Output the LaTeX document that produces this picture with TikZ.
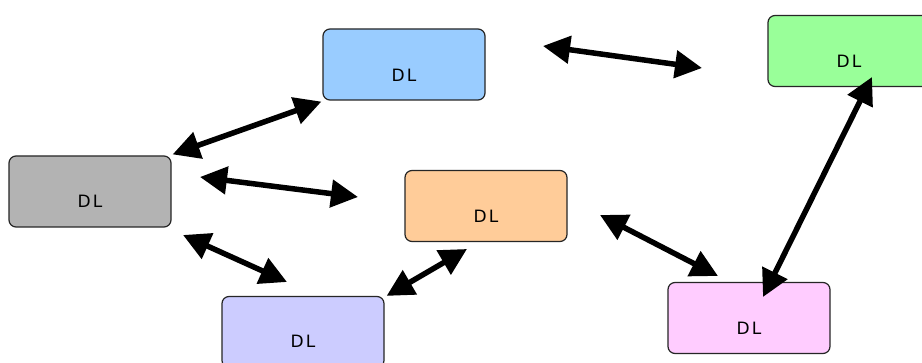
\documentclass[tikz,border=0pt]{standalone}
\usepackage{fontspec}
\setmainfont{DejaVu Sans}
\usetikzlibrary{arrows.meta}
\definecolor{cgray}{HTML}{B3B3B3}
\definecolor{cblue}{HTML}{99CCFF}
\definecolor{cgreen}{HTML}{99FF99}
\definecolor{corange}{HTML}{FFCC99}
\definecolor{clav}{HTML}{CCCCFF}
\definecolor{cpink}{HTML}{FFCCFF}
\tikzset{
  box/.style={draw=black!85, line width=1.2pt, rounded corners=7pt, rectangle,
    minimum width=162pt, minimum height=71pt, inner sep=0pt},
  dl/.style={font=\fontsize{17}{19}\selectfont, inner sep=0pt},
  link/.style={line width=5.5pt, {Triangle[length=27pt,width=27pt]}-{Triangle[length=27pt,width=27pt]}}
}
\begin{document}
\begin{tikzpicture}[x=1pt,y=-1pt]
\useasboundingbox (0,0) rectangle (922,363);
\clip (0,0) rectangle (922,363);
\fill[white] (0,0) rectangle (922,363);
% boxes
\node[box, fill=cgray]   (gray)   at (90,191.5) {};
\node[box, fill=cblue]   (blue)   at (404,64.5) {};
\node[box, fill=cgreen]  (green)  at (849,51) {};
\node[box, fill=corange] (orange) at (486,206) {};
\node[box, fill=clav]    (lav)    at (303,332) {};
\node[box, fill=cpink]   (pink)   at (749,318) {};
% labels
\node[dl] (tgray)   at ([yshift=-10pt]gray.center)   {D\kern2pt L};
\node[dl] (tblue)   at ([yshift=-11pt]blue.center)   {D\kern2pt L};
\node[dl] (tgreen)  at ([yshift=-10pt]green.center)  {D\kern2pt L};
\node[dl] (torange) at ([yshift=-10pt]orange.center) {D\kern2pt L};
\node[dl] (tlav)    at ([yshift=-9pt]lav.center)     {D\kern2pt L};
\node[dl] (tpink)   at ([yshift=-10pt]pink.center)   {D\kern2pt L};
% free arrow ends
\coordinate (a2s) at (200,177);
\coordinate (a2e) at (358,197);
\coordinate (a3s) at (183,235);
\coordinate (a3e) at (287,282);
\coordinate (a4e) at (467,249);
\coordinate (a5s) at (543,46);
\coordinate (a5e) at (702,68);
\coordinate (a6s) at (600,215);
\coordinate (a6e) at (718,276);
\coordinate (a7s) at (872,77);
\coordinate (a7e) at (763,297);
% connectors
\draw[link] ([shift={(1pt,1pt)}]gray.north east) -- ([shift={(-1pt,-1pt)}]blue.south west);
\draw[link] (a2s) -- (a2e);
\draw[link] (a3s) -- (a3e);
\draw[link] ([shift={(2pt,0pt)}]lav.north east) -- (a4e);
\draw[link] (a5s) -- (a5e);
\draw[link] (a6s) -- (a6e);
\draw[link] (a7s) -- (a7e);
\end{tikzpicture}
\end{document}
